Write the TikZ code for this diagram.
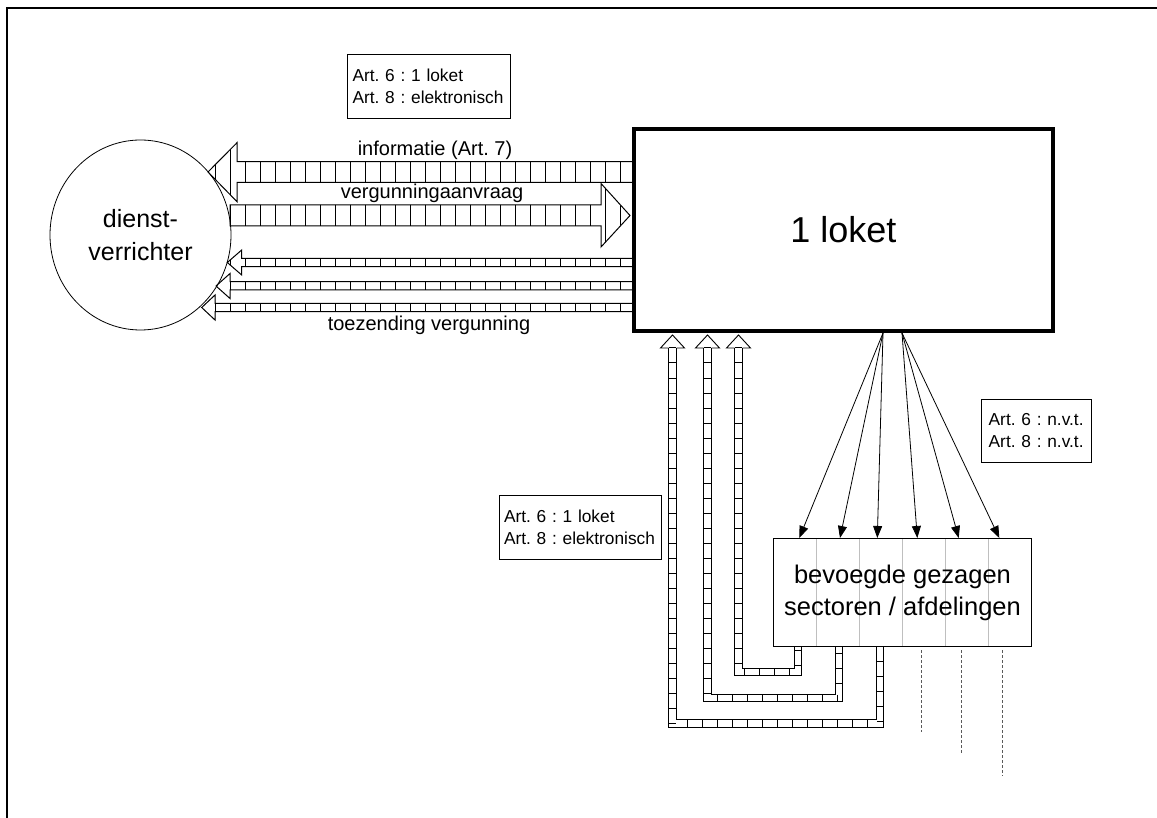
\documentclass[tikz,border=0pt]{standalone}
\usepackage{fontspec}
\setmainfont{Liberation Sans}
\usetikzlibrary{arrows.meta,decorations.pathreplacing,shapes.geometric}
\frenchspacing
\newcommand\harrowleft[8]{%
  % #1 right end, #2 shaft top, #3 shaft bottom, #4 head base, #5 head top, #6 head bottom, #7 tip x, #8 tip y
  \begin{scope}
    \clip (#1,#2) -- (#4,#2) -- (#4,#5) -- (#7,#8) -- (#4,#6) -- (#4,#3) -- (#1,#3) -- cycle;
    \foreach \xx in {200,215,...,635} \draw[hatch] (\xx,#5) -- (\xx,#6);
  \end{scope}
  \draw[hatch] (#1,#2) -- (#4,#2) -- (#4,#5) -- (#7,#8) -- (#4,#6) -- (#4,#3) -- (#1,#3);
}
\begin{document}
\begin{tikzpicture}[x=1pt,y=-1pt,
  frameline/.style={line width=2.6pt,black},
  txtbox/.style={draw,line width=0.9pt,align=left,inner xsep=5pt,inner ysep=0pt,font=\fontsize{17.3}{22}\selectfont},
  lbl/.style={font=\fontsize{20}{24}\selectfont,inner sep=0pt},
  hatch/.style={line width=1pt},
  trackline/.style={double,double distance=6.4pt,line width=1pt},
  trackticks/.style={line width=1pt,decorate,decoration={ticks,segment length=15pt,amplitude=3.2pt}},
  trackhead/.style={line width=0.9pt},
  fan/.style={line width=0.8pt,-{Triangle[length=12pt,width=9pt]}},
  dashline/.style={black!65,line width=0.8pt,dash pattern=on 3pt off 2pt},
]
\useasboundingbox (0,0) rectangle (1157,818);
\draw[frameline] (7,818) -- (7,8) -- (1157,8);

% dienstverrichter
\node[ellipse,draw,line width=0.8pt,minimum width=181pt,minimum height=190pt,inner sep=0pt,
      align=center,font=\fontsize{25}{33}\selectfont] (dv) at (140.5,235) {dienst-\\verrichter};

% hatched horizontal arrows
\harrowleft{633}{161.7}{182.3}{237}{142.7}{201.7}{208}{172}
\begin{scope}
  \clip (230,205) -- (601,205) -- (601,183.5) -- (630,215.5) -- (601,247) -- (601,226) -- (230,226) -- cycle;
  \foreach \xx in {200,215,...,635} \draw[hatch] (\xx,183.5) -- (\xx,247);
\end{scope}
\draw[hatch] (230,205) -- (601,205) -- (601,183.5) -- (630,215.5) -- (601,247) -- (601,226) -- (230,226) -- cycle;
\harrowleft{633}{258.3}{266.7}{241.7}{250}{275}{227.3}{262.5}
\harrowleft{633}{281.7}{290}{230}{273.5}{298.5}{216}{286}
\harrowleft{633}{303.3}{311.7}{215}{295}{320}{201.7}{307.5}

\node[lbl] (l1) at (435,150) {informatie (Art. 7)};
\node[lbl] (l2) at (432,193) {vergunningaanvraag};
\node[lbl] (l3) at (429,325) {toezending vergunning};

% 1 loket
\node[draw,line width=4pt,minimum width=419.3pt,minimum height=202pt,inner sep=0pt,
      font=\fontsize{36}{40}\selectfont] (loket) at (843.3,230) {1 loket};

% vertical hatched tracks
\foreach \hx/\by/\rx in {738.5/672/798, 707.5/697.7/839, 672.5/723.5/880}{
  \draw[trackline] (\hx,348) -- (\hx,\by) -- (\rx,\by) -- (\rx,645);
  \draw[trackticks] (\hx,348) -- (\hx,\by) -- (\rx,\by) -- (\rx,645);
  \draw[trackhead] (\hx-4,348) -- (\hx-12,348) -- (\hx,335) -- (\hx+12,348) -- (\hx+4,348);
}

% bevoegde gezagen
\node[draw,fill=white,line width=1pt,minimum width=258.4pt,minimum height=108.4pt,inner sep=0pt] (bg) at (902.5,592.5) {};
\foreach \xx in {816.7,859.3,902.7,945.3,988}
  \draw[black!25,line width=0.8pt] (\xx,539) -- (\xx,646);
\node[align=center,font=\fontsize{25.5}{32}\selectfont,inner sep=0pt] (bgtext) at (bg.center) {bevoegde gezagen\\sectoren / afdelingen};

% fan arrows
\coordinate (fa) at (883,333);
\coordinate (fb) at (902,333);
\foreach \tx in {799.3,840,877.3} \draw[fan] (fa) -- (\tx,538);
\foreach \tx in {917.3,958.7,999.3} \draw[fan] (fb) -- (\tx,538);

% dashed lines
\draw[dashline] (921,650) -- (921,732);
\draw[dashline] (961.7,650) -- (961.7,753);
\draw[dashline] (1002.3,650) -- (1002.3,776);

% text boxes
\node[txtbox,minimum width=163.4pt,minimum height=64.3pt,text width=153pt] (boxA) at (429,86.2) {Art. 6 : 1 loket\\Art. 8 : elektronisch};
\node[txtbox,minimum width=162pt,minimum height=64pt,text width=152pt] (boxB) at (580,527) {Art. 6 : 1 loket\\Art. 8 : elektronisch};
\node[txtbox,inner xsep=7pt,minimum width=110pt,minimum height=63.4pt,text width=96pt] (boxC) at (1036.7,431) {Art. 6 : n.v.t.\\Art. 8 : n.v.t.};
\end{tikzpicture}
\end{document}
